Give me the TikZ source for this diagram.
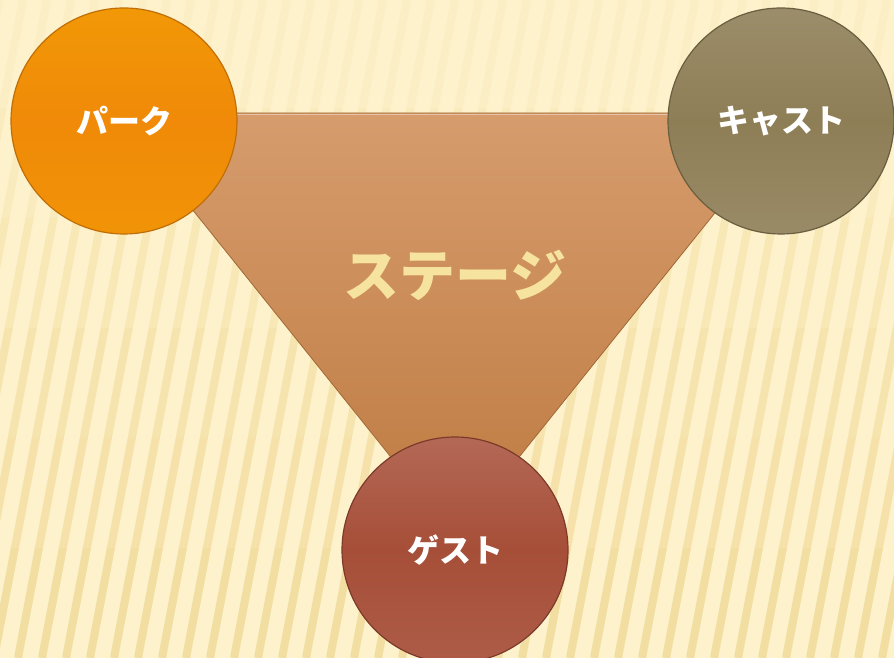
\documentclass[tikz,border=0pt]{standalone}
\usepackage{fontspec}
\newfontfamily\cjk{Noto Sans CJK JP}
\usepackage{tikz}

\definecolor{paper}{HTML}{FDF2CC}
\definecolor{stripe}{HTML}{F3DEA2}
\definecolor{stagetop}{HTML}{D69C6D}
\definecolor{stagebot}{HTML}{BE7A40}
\definecolor{stagetext}{HTML}{F6E39F}
\definecolor{parkcol}{HTML}{F08A08}
\definecolor{castcol}{HTML}{8E7E56}
\definecolor{guestcol}{HTML}{A64E38}

\tikzset{
  ball/.style={circle,minimum size=226pt,inner sep=0pt,line width=1.2pt,
               text=white,font=\cjk\bfseries\fontsize{32}{32}\selectfont},
}

\begin{document}
\begin{tikzpicture}[x=1pt,y=1pt]
		\useasboundingbox (0,0) rectangle (894,658);
		% background, stripes fainter towards the top
		\fill[paper] (0,0) rectangle (894,658);
		\foreach \b [evaluate=\b as \lo using \b*110,
		             evaluate=\b as \hi using \b*110+110,
		             evaluate=\b as \mix using 100-16*\b] in {0,...,5} {
			\begin{scope}
				\clip (0,\lo) rectangle (894,\hi);
				\foreach \x in {-150,-126,...,910}
					\draw[stripe!\mix!paper,line width=8pt] (\x,0) -- (\x+125,658);
			\end{scope}
		}

		% stage triangle
		\coordinate (TL) at (115,545);
		\coordinate (TR) at (795,545);
		\coordinate (BT) at (455,121);
		\shade[top color=stagetop,bottom color=stagebot,draw=stagebot!85!black,line width=0.8pt]
			(TL) -- (TR) -- (BT) -- cycle;
		\draw[stagetop!60!white,line width=1pt] ([yshift=-1.5pt]TL) -- ([yshift=-1.5pt]TR);
		\node (stage) at (455,383) [text=stagetext,font=\cjk\bfseries\fontsize{56}{56}\selectfont] {ステージ};

		\begin{scope}[every node/.style={ball}]
			\node (park) at (124,537) [top color=parkcol!88!yellow,bottom color=parkcol!92!yellow,middle color=parkcol,draw=parkcol!80!black] {パーク};
			\node (cast) at (781,537) [top color=castcol!88!white,bottom color=castcol!90!white,middle color=castcol,draw=castcol!75!black] {キャスト};
			\node (guest) at (455,108) [top color=guestcol!85!white,bottom color=guestcol!92!white,middle color=guestcol,draw=guestcol!75!black] {ゲスト};
		\end{scope}
\end{tikzpicture}
\end{document}
